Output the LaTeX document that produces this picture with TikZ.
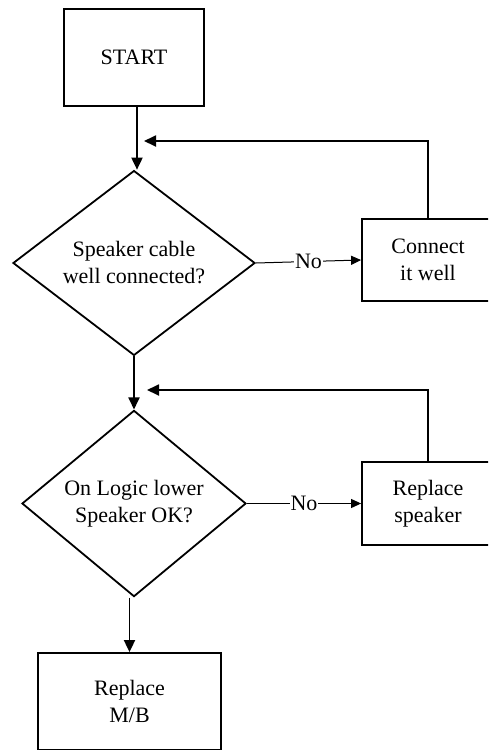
\documentclass[tikz,border=0pt]{standalone}
\usepackage{fontspec}
\setmainfont{Liberation Serif}
\usetikzlibrary{shapes.geometric,arrows.meta}
\begin{document}
\begin{tikzpicture}[x=1pt,y=-1pt,
  every node/.style={font=\fontsize{22}{27}\selectfont, align=center},
  box/.style={draw, line width=1.8pt, inner sep=0pt},
  dec/.style={draw, diamond, line width=1.8pt, inner sep=0pt},
  conn/.style={line width=1.8pt},
  arr/.style={conn, -{Triangle[length=12pt,width=11pt]}},
  noarr/.style={line width=1pt, -{Triangle[length=10pt,width=9pt]}},
  lbl/.style={fill=white, inner sep=1pt}]
\useasboundingbox (0,0) rectangle (488,750);
\clip (0,0) rectangle (488,750);
\node[box, minimum width=140pt, minimum height=97pt] (start) at (134,57.5) {START};
\node[dec, minimum width=242pt, minimum height=182pt] (d1) at (134,263) {Speaker cable\\well connected?};
\node[box, minimum width=132pt, minimum height=82pt] (c1) at (428,260) {Connect\\it well};
\node[dec, minimum width=224pt, minimum height=167pt] (d2) at (134,503.5) {On Logic lower\\Speaker OK?};
\node[box, minimum width=132pt, minimum height=83pt] (c2) at (428,503.5) {Replace\\speaker};
\node[box, minimum width=183pt, minimum height=97pt] (mb) at (129.5,701.5) {Replace\\M/B};
\coordinate (j1) at (144,141);
\coordinate (j2) at (147,390);
\draw[arr] ([xshift=3pt]start.south) -- ([xshift=3pt]d1.north);
\draw[noarr] (d1.east) -- node[lbl]{No} (c1.west);
\draw[arr] (c1.north) |- (j1);
\draw[arr] (d1.south) -- (d2.north);
\draw[noarr] (d2.east) -- node[lbl]{No} (c2.west);
\draw[arr] (c2.north) |- (j2);
\draw[arr] (d2.south -| mb.north) -- (mb.north);
\end{tikzpicture}
\end{document}
